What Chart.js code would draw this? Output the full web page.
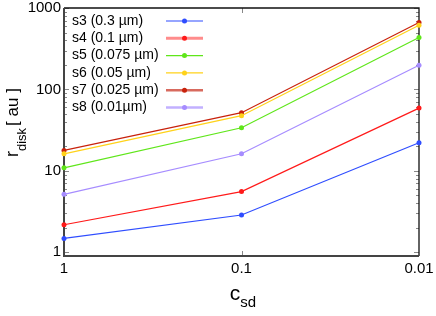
<!DOCTYPE html>
<html>
<head>
<meta charset="utf-8">
<script src="https://cdn.jsdelivr.net/npm/chart.js@4"></script>
<style>
html,body{margin:0;padding:0;background:#fff;}
#wrap{width:436px;height:316px;position:relative;}
</style>
</head>
<body>
<div id="wrap"><canvas id="c" width="436" height="316"></canvas></div>
<script>
const categories = ['1', '0.1', '0.01'];
const seriesNames = ['s3 (0.3 µm)', 's4 (0.1 µm)', 's5 (0.075 µm)', 's6 (0.05 µm)', 's7 (0.025 µm)', 's8 (0.01µm)'];
const s3 = [1.48, 2.87, 22.1];
const s4 = [2.18, 5.56, 59];
const s5 = [10.9, 33.8, 434];
const s6 = [16.2, 47.6, 615];
const s7 = [17.8, 51.8, 664];
const s8 = [5.15, 16.2, 198];
const yTicks = [1, 10, 100, 1000];

const colors = ['#2f4dff', '#ff1a1a', '#5fe61a', '#ffd21a', '#c8220c', '#a68cff'];
const legendLine = [
  {c: '#2f4dff', w: 1.2},
  {c: '#ff8c8c', w: 3},
  {c: '#5fe61a', w: 1.2},
  {c: '#ffd21a', w: 1.2},
  {c: '#d86a5e', w: 2.5},
  {c: '#c2b0ff', w: 2.5}
];
const allSeries = [s3, s4, s5, s6, s7, s8];

const FONT = "'Liberation Sans', Arial, Helvetica, sans-serif";

const decor = {
  id: 'decor',
  beforeDatasetsDraw(chart) {
    const ctx = chart.ctx;
    const a = chart.chartArea;
    const xs = chart.scales.x, ys = chart.scales.y;
    ctx.save();
    // minor/major ticks on y (left and right, inside)
    ctx.strokeStyle = '#888';
    ctx.lineWidth = 1;
    for (let d = 1; d <= 1000; d *= 10) {
      for (let k = 1; k <= 9; k++) {
        const v = d * k;
        if (v > 1000) break;
        const py = Math.round(ys.getPixelForValue(v)) + 0.5;
        const len = k === 1 ? 5 : 3;
        ctx.beginPath();
        ctx.moveTo(a.left, py); ctx.lineTo(a.left + len, py);
        ctx.moveTo(a.right, py); ctx.lineTo(a.right - len, py);
        ctx.stroke();
      }
    }
    // x ticks at middle category (top and bottom)
    const px = Math.round(xs.getPixelForValue(1)) + 0.5;
    ctx.beginPath();
    ctx.moveTo(px, a.bottom); ctx.lineTo(px, a.bottom - 5);
    ctx.moveTo(px, a.top); ctx.lineTo(px, a.top + 5);
    ctx.stroke();
    // frame
    ctx.strokeStyle = '#111';
    ctx.lineWidth = 1.3;
    ctx.beginPath();
    ctx.moveTo(a.left, a.top); ctx.lineTo(a.right, a.top); ctx.lineTo(a.right, a.bottom);
    ctx.stroke();
    ctx.strokeStyle = '#444';
    ctx.lineWidth = 2;
    ctx.beginPath();
    ctx.moveTo(a.left, a.top); ctx.lineTo(a.left, a.bottom); ctx.lineTo(a.right, a.bottom);
    ctx.stroke();
    ctx.restore();
  },
  afterDraw(chart) {
    const ctx = chart.ctx;
    ctx.save();
    ctx.fillStyle = '#000';
    // legend
    ctx.textBaseline = 'middle';
    ctx.textAlign = 'left';
    ctx.font = '14px ' + FONT;
    for (let i = 0; i < seriesNames.length; i++) {
      const y = 21 + i * 17.3;
      ctx.fillStyle = '#000';
      ctx.fillText(seriesNames[i], 72, y);
      ctx.strokeStyle = legendLine[i].c;
      ctx.lineWidth = legendLine[i].w;
      ctx.beginPath();
      ctx.moveTo(166, y); ctx.lineTo(203, y);
      ctx.stroke();
      ctx.fillStyle = colors[i];
      ctx.beginPath();
      ctx.arc(184.5, y, 2.5, 0, Math.PI * 2);
      ctx.fill();
    }
    // x title c_sd
    ctx.fillStyle = '#000';
    ctx.textBaseline = 'alphabetic';
    ctx.font = '21px ' + FONT;
    const wc = ctx.measureText('c').width;
    ctx.font = '15px ' + FONT;
    const wsd = ctx.measureText('sd').width;
    let x0 = 243 - (wc + wsd) / 2;
    ctx.font = '21px ' + FONT;
    ctx.fillText('c', x0, 300);
    ctx.font = '15px ' + FONT;
    ctx.fillText('sd', x0 + wc, 307);
    // y title r_disk [ au ]
    ctx.translate(17.5, 157);
    ctx.rotate(-Math.PI / 2);
    ctx.font = '18px ' + FONT;
    ctx.fillText('r', 0, 0);
    let u = ctx.measureText('r').width;
    ctx.font = '13px ' + FONT;
    ctx.fillText('disk', u, 8.5);
    u += ctx.measureText('disk').width + 2;
    ctx.font = '17px ' + FONT;
    ctx.fillText('[ au ]', u, 0);
    ctx.restore();
  }
};

const datasets = allSeries.map((d, i) => ({
  label: seriesNames[i],
  data: d,
  borderColor: colors[i],
  backgroundColor: colors[i],
  borderWidth: 1.2,
  pointRadius: 2.5,
  pointBorderWidth: 0,
  pointBackgroundColor: colors[i],
  tension: 0,
  clip: false
}));

new Chart(document.getElementById('c'), {
  type: 'line',
  data: { labels: categories, datasets: datasets },
  options: {
    responsive: false,
    animation: false,
    devicePixelRatio: 1,
    layout: { padding: { left: 0, right: 17, top: 8, bottom: 0 } },
    plugins: { legend: { display: false }, tooltip: { enabled: false } },
    scales: {
      x: {
        type: 'category',
        offset: false,
        grid: { display: false, drawTicks: false },
        border: { display: false },
        ticks: { color: '#000', font: { size: 15, family: FONT }, padding: 4, maxRotation: 0, autoSkip: false },
        afterFit(s) { s.height = 60; s.paddingLeft = 0; s.paddingRight = 0; }
      },
      y: {
        type: 'logarithmic',
        min: 0.9,
        max: 1000,
        grid: { display: false, drawTicks: false },
        border: { display: false },
        afterBuildTicks(s) { s.ticks = yTicks.map(v => ({ value: v, major: true })); },
        ticks: {
          color: '#000',
          font: { size: 15, family: FONT },
          padding: 3,
          callback: (v) => String(v)
        },
        afterFit(s) { s.width = 64; s.paddingTop = 0; s.paddingBottom = 0; }
      }
    }
  },
  plugins: [decor]
});
</script>
</body>
</html>
